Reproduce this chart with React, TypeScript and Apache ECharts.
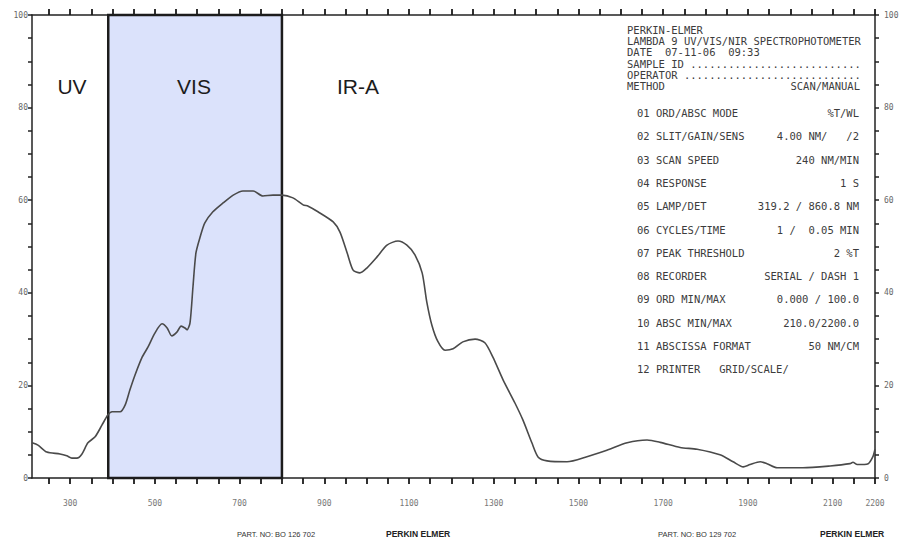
import React, { useEffect, useRef } from "react";
import * as echarts from "echarts";

// Wavelength (nm) and transmittance (%T)
const wavelengths = [
  210, 224, 245, 276, 292, 304, 316, 328, 342, 359, 375, 389, 399, 418, 430, 441, 453, 470, 484, 500,
  517, 529, 540, 552, 562, 571, 576, 583, 590, 597, 607, 618, 637, 661, 685, 708, 732, 755, 779, 800,
  826, 850, 862, 885, 921, 937, 954, 968, 984, 1001, 1024, 1048, 1074, 1095, 1114, 1131, 1142, 1154, 1168, 1185,
  1204, 1227, 1256, 1279, 1298, 1322, 1350, 1369, 1390, 1405, 1426, 1473, 1520, 1567, 1615, 1662, 1693, 1740, 1780, 1834,
  1865, 1889, 1905, 1929, 1945, 1969, 2030, 2094, 2141, 2148, 2158, 2184, 2195, 2200,
];
const transmittance = [
  7.6, 7.1, 5.6, 5.2, 4.8, 4.3, 4.3, 5.2, 7.6, 8.9, 11.4, 13.6, 14.3, 14.3, 15.8, 19.0, 22.2, 26.1, 28.3, 31.3,
  33.3, 32.4, 30.7, 31.5, 32.8, 32.4, 32.0, 33.5, 41.3, 48.6, 52.1, 55.1, 57.5, 59.4, 61.1, 62.0, 62.0, 60.9, 61.1, 61.1,
  60.5, 59.0, 58.7, 57.5, 55.3, 53.1, 48.6, 44.9, 44.3, 45.4, 47.7, 50.3, 51.2, 50.3, 48.2, 44.3, 38.0, 33.0, 29.5, 27.6,
  27.9, 29.4, 30.0, 29.2, 26.1, 21.2, 16.2, 12.5, 7.6, 4.5, 3.7, 3.5, 4.6, 6.0, 7.6, 8.2, 7.7, 6.6, 6.2, 5.0,
  3.5, 2.4, 2.9, 3.5, 3.1, 2.2, 2.2, 2.6, 3.1, 3.4, 2.9, 3.1, 4.6, 6.2,
];

// Regions
const regionNames = ["UV", "VIS", "IR-A"];
const visRange = [390, 800];

// Axis ticks / labels
const xMin = 210;
const xMax = 2200;
const xTickValues = [
  250, 300, 350, 400, 450, 500, 550, 600, 650, 700, 750, 800, 850, 900, 950, 1000, 1050, 1100, 1150, 1200,
  1250, 1300, 1350, 1400, 1450, 1500, 1550, 1600, 1650, 1700, 1750, 1800, 1850, 1900, 1950, 2000, 2050, 2100,
  2150, 2200,
];
const xLabelValues = [300, 500, 700, 900, 1100, 1300, 1500, 1700, 1900, 2100, 2200];
const yLabelValues = [0, 20, 40, 60, 80, 100];

// Instrument printout
const headerLines = [
  "PERKIN-ELMER",
  "LAMBDA 9 UV/VIS/NIR SPECTROPHOTOMETER",
  "DATE  07-11-06  09:33",
  "SAMPLE ID ...........................",
  "OPERATOR ............................",
  "METHOD",
];
const methodValue = "SCAN/MANUAL";
const paramNames = [
  "01 ORD/ABSC MODE",
  "02 SLIT/GAIN/SENS",
  "03 SCAN SPEED",
  "04 RESPONSE",
  "05 LAMP/DET",
  "06 CYCLES/TIME",
  "07 PEAK THRESHOLD",
  "08 RECORDER",
  "09 ORD MIN/MAX",
  "10 ABSC MIN/MAX",
  "11 ABSCISSA FORMAT",
  "12 PRINTER   GRID/SCALE/",
];
const paramValues = [
  "%T/WL",
  "4.00 NM/   /2",
  "240 NM/MIN",
  "1 S",
  "319.2 / 860.8 NM",
  "1 /  0.05 MIN",
  "2 %T",
  "SERIAL / DASH 1",
  "0.000 / 100.0",
  "210.0/2200.0",
  "50 NM/CM",
  "",
];
const footerTexts = ["PART. NO: BO 126 702", "PERKIN ELMER", "PART. NO: BO 129 702", "PERKIN ELMER"];

export default function App() {
  const ref = useRef<HTMLDivElement>(null);

  useEffect(() => {
    if (!ref.current) return;
    const chart = echarts.init(ref.current, undefined, { renderer: "svg" });
    const mono = "'DejaVu Sans Mono', 'Liberation Mono', monospace";
    const printColor = "#3c3c3c";
    const axisColor = "#222";

    const graphics: any[] = [];
    const headerYs = [30, 41, 52, 64, 75, 86];
    headerLines.forEach((t, i) => {
      graphics.push({
        type: "text",
        x: 627,
        y: headerYs[i],
        style: { text: t, font: `10.5px ${mono}`, fill: printColor, textVerticalAlign: "middle" },
      });
    });
    graphics.push({
      type: "text",
      x: 860,
      y: headerYs[5],
      style: { text: methodValue, font: `10.5px ${mono}`, fill: printColor, textAlign: "right", textVerticalAlign: "middle" },
    });
    paramNames.forEach((t, i) => {
      const y = 113 + i * 23.3;
      graphics.push({
        type: "text",
        x: 637,
        y,
        style: { text: t, font: `10.5px ${mono}`, fill: printColor, textVerticalAlign: "middle" },
      });
      if (paramValues[i]) {
        graphics.push({
          type: "text",
          x: 859,
          y,
          style: { text: paramValues[i], font: `10.5px ${mono}`, fill: printColor, textAlign: "right", textVerticalAlign: "middle" },
        });
      }
    });
    const regionXs = [72, 194, 358];
    regionNames.forEach((t, i) => {
      graphics.push({
        type: "text",
        x: regionXs[i],
        y: 86,
        z: 10,
        style: {
          text: t,
          font: "21px 'Liberation Sans', Arial, sans-serif",
          fill: "#1c1c1c",
          textAlign: "center",
          textVerticalAlign: "middle",
        },
      });
    });
    const footerXs = [237, 386, 658, 820];
    footerTexts.forEach((t, i) => {
      const bold = i % 2 === 1;
      graphics.push({
        type: "text",
        x: footerXs[i],
        y: 534,
        style: {
          text: t,
          font: `${bold ? "bold 8.5px" : "7.5px"} 'Liberation Sans', Arial, sans-serif`,
          fill: bold ? "#222" : "#333",
          textVerticalAlign: "middle",
        },
      });
    });

    const yFmt = (v: number) => (yLabelValues.indexOf(v) >= 0 ? String(v) : "");

    chart.setOption({
      animation: false,
      backgroundColor: "#ffffff",
      grid: { left: 32, right: 31, top: 15, bottom: 67 },
      xAxis: [
        {
          type: "value",
          position: "bottom",
          min: xMin,
          max: xMax,
          splitLine: { show: false },
          axisLine: { show: true, onZero: false, lineStyle: { color: axisColor, width: 1.5 } },
          axisTick: { show: true, customValues: xTickValues, length: 6, lineStyle: { color: "#1a1a1a", width: 1.8 } },
          axisLabel: {
            customValues: xLabelValues,
            formatter: (v: number) => String(v),
            margin: 21,
            fontSize: 8,
            fontFamily: mono,
            color: "#777",
          },
        },
        {
          type: "value",
          position: "top",
          min: xMin,
          max: xMax,
          splitLine: { show: false },
          axisLine: { show: true, onZero: false, lineStyle: { color: axisColor, width: 1.5 } },
          axisTick: { show: true, customValues: xTickValues, length: 6, lineStyle: { color: "#1a1a1a", width: 1.8 } },
          axisLabel: { customValues: xLabelValues, color: "rgba(0,0,0,0)", fontSize: 1, margin: 0 },
        },
      ],
      yAxis: [
        {
          type: "value",
          position: "left",
          min: 0,
          max: 100,
          interval: 5,
          splitLine: { show: false },
          axisLine: { show: true, onZero: false, lineStyle: { color: axisColor, width: 1.5 } },
          axisTick: { show: true, length: 4, lineStyle: { color: axisColor, width: 1.5 } },
          axisLabel: { formatter: yFmt, margin: 4, fontSize: 8, fontFamily: mono, color: "#666", interval: 0 },
        },
        {
          type: "value",
          position: "right",
          min: 0,
          max: 100,
          interval: 5,
          splitLine: { show: false },
          axisLine: { show: true, onZero: false, lineStyle: { color: axisColor, width: 1.5 } },
          axisTick: { show: true, length: 4, lineStyle: { color: axisColor, width: 1.5 } },
          axisLabel: { formatter: yFmt, margin: 9, fontSize: 8, fontFamily: mono, color: "#666", interval: 0 },
        },
      ],
      graphic: graphics,
      series: [
        {
          type: "line",
          z: 1,
          data: [],
          markArea: {
            silent: true,
            itemStyle: { color: "#dbe2fb", borderColor: "#1c1c1c", borderWidth: 2.5 },
            data: [[{ xAxis: visRange[0], yAxis: 0 }, { xAxis: visRange[1], yAxis: 100 }]],
          },
        },
        {
          type: "line",
          z: 5,
          data: wavelengths.map((w, i) => [w, transmittance[i]]),
          showSymbol: false,
          smooth: 0.25,
          lineStyle: { color: "#4a4a4a", width: 1.6 },
        },
      ],
    });

    return () => chart.dispose();
  }, []);

  return (
    <div
      ref={ref}
      style={{ position: "absolute", left: 0, top: 0, width: 906, height: 545, background: "#fff" }}
    />
  );
}
